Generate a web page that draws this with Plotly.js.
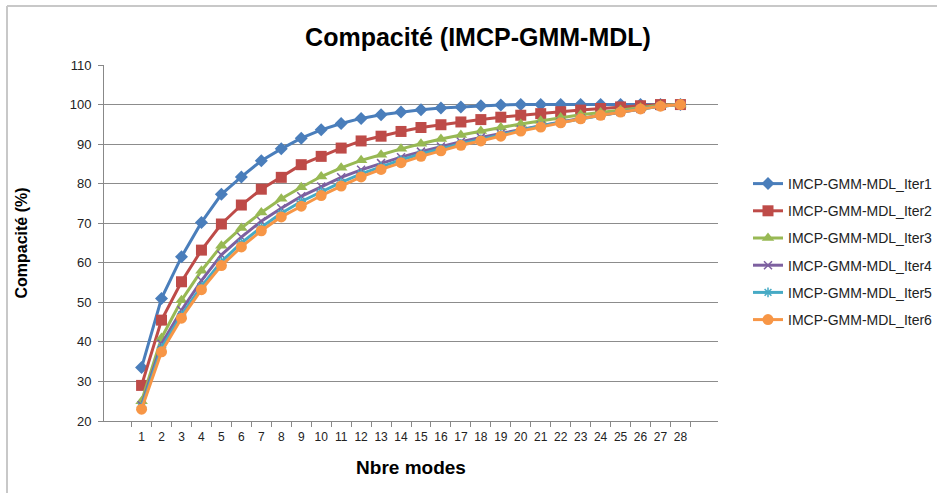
<!DOCTYPE html>
<html>
<head>
<meta charset="utf-8">
<script src="https://cdn.plot.ly/plotly-3.0.1.min.js"></script>
<style>
html,body{margin:0;padding:0;background:#fff;}
#chart{width:937px;height:493px;}
</style>
</head>
<body>
<div id="chart"></div>
<script>
const modes = ["1","2","3","4","5","6","7","8","9","10","11","12","13","14","15","16","17","18","19","20","21","22","23","24","25","26","27","28"];
const seriesNames = ["IMCP-GMM-MDL_Iter1","IMCP-GMM-MDL_Iter2","IMCP-GMM-MDL_Iter3","IMCP-GMM-MDL_Iter4","IMCP-GMM-MDL_Iter5","IMCP-GMM-MDL_Iter6"];
const iter1 = [33.5,51,61.5,70.2,77.3,81.7,85.8,88.8,91.5,93.6,95.2,96.5,97.4,98.1,98.7,99.1,99.4,99.7,99.9,100,100,100,100,100,100,100,100,100];
const iter2 = [29,45.5,55.2,63.2,69.8,74.6,78.6,81.6,84.8,86.9,89,90.8,92,93.2,94.2,94.9,95.6,96.2,96.8,97.3,97.7,98.2,98.6,99,99.4,99.7,100,100];
const iter3 = [25,41,50.5,58,64.3,68.8,72.7,76.2,79.1,81.8,84,85.9,87.3,88.8,90.1,91.3,92.3,93.3,94.2,95.1,95.9,96.7,97.4,98,98.6,99.2,99.8,100];
const iter4 = [24,39.5,48,55.5,62,66.5,70.5,73.8,76.8,79.3,81.6,83.5,85.2,86.7,88.1,89.4,90.6,91.7,92.7,93.7,94.7,95.6,96.5,97.3,98.1,98.9,99.6,100];
const iter5 = [23.5,38.5,46.8,54,60.3,65,69,72.5,75.5,78,80.3,82.5,84.3,86,87.5,88.8,90.1,91.2,92.4,93.5,94.6,95.5,96.4,97.3,98.1,98.9,99.6,100];
const iter6 = [23,37.5,46,53.2,59.3,64,68.1,71.6,74.3,77,79.4,81.7,83.6,85.3,86.9,88.3,89.7,90.8,92,93.3,94.3,95.4,96.4,97.3,98.1,98.9,99.6,100];
const yTicks = [20,30,40,50,60,70,80,90,100,110];

const allSeries = [iter1, iter2, iter3, iter4, iter5, iter6];
const colors = ["#4a7ebb","#be4b48","#98b954","#7d60a0","#46aac5","#f79646"];
const symbols = ["diamond","square","triangle-up","x-thin-open","asterisk-open","circle"];
const sizes = [10,11,11,8,8,11];

const traces = allSeries.map((ys, i) => ({
  x: modes, y: ys, name: seriesNames[i], type: "scatter", mode: "lines+markers",
  legendgroup: "g" + i,
  line: {color: colors[i], width: 3},
  marker: {symbol: symbols[i], size: sizes[i], color: colors[i], line: {color: colors[i], width: (i===3||i===4)?1.5:0}}
}));

const L = 104, R = 718, T = 65, B = 421;
const W = R - L, H = B - T;
const px = v => (v - L) / W;
const py = v => (B - v) / H;

const layout = {
  width: 937, height: 493,
  margin: {l: L, r: 937 - R, t: T, b: 493 - B, autoexpand: false},
  paper_bgcolor: "#ffffff", plot_bgcolor: "#ffffff",
  font: {family: "Liberation Sans, Arial, sans-serif", color: "#333333", size: 13},
  title: {text: "<b>Compacité (IMCP-GMM-MDL)</b>", font: {size: 25, color: "#000", family: "Liberation Sans, Arial, sans-serif"},
          xref: "container", x: 478/937, xanchor: "center", yref: "container", y: 1 - 37/493, yanchor: "middle"},
  xaxis: {type: "category", tickson: "boundaries", ticks: "outside", ticklen: 5, tickcolor: "#888", tickangle: 0,
          ticklabelstandoff: 5,
          showline: true, linecolor: "#888", linewidth: 1, showgrid: false, zeroline: false,
          tickfont: {size: 12, color: "#222"},
          title: {text: "<b>Nbre modes</b>", font: {size: 19, color: "#000"}, standoff: 17}},
  yaxis: {range: [20, 110], tickvals: yTicks, ticks: "outside", ticklen: 5, tickcolor: "#888", ticklabelstandoff: 4,
          showline: true, linecolor: "#888", linewidth: 1, showgrid: true, gridcolor: "#8c8c8c", gridwidth: 1,
          zeroline: false, tickfont: {size: 13, color: "#222"},
          title: {text: "<b>Compacité (%)</b>", font: {size: 16, color: "#000"}, standoff: 38}},
  legend: {x: px(748), y: py(168), xanchor: "left", yanchor: "top", font: {size: 14, color: "#222"},
           tracegroupgap: 6, itemwidth: 30, bgcolor: "rgba(0,0,0,0)"},
  shapes: [
    {type: "line", xref: "paper", yref: "paper", x0: px(7), x1: px(960), y0: py(6), y1: py(6), line: {color: "#c8c8c8", width: 2}},
    {type: "line", xref: "paper", yref: "paper", x0: px(7), x1: px(7), y0: py(6), y1: py(520), line: {color: "#c8c8c8", width: 2}}
  ]
};

Plotly.newPlot("chart", traces, layout, {displayModeBar: false, staticPlot: true});
</script>
</body>
</html>
